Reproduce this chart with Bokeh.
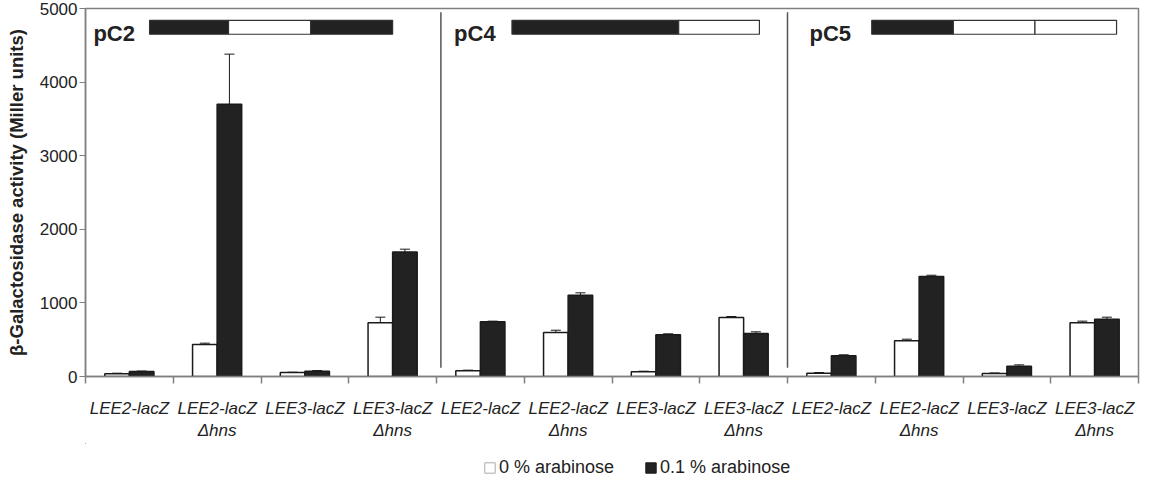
from bokeh.plotting import figure
from bokeh.layouts import column
from bokeh.models import (ColumnDataSource, FixedTicker, Whisker, TeeHead, Legend, LegendItem)
from bokeh.core.properties import value
from bokeh.embed import file_html
from bokeh.resources import INLINE

# ---------------- data ----------------
plasmids = ["pC2", "pC4", "pC5"]
strains = ["LEE2-lacZ", "LEE2-lacZ\nΔhns", "LEE3-lacZ", "LEE3-lacZ\nΔhns"]
labels = strains * 3
ara0 = [36, 435, 54, 730, 77, 598, 63, 801, 45, 485, 41, 730]
ara0_err = [45, 453, 58, 806, 86, 629, 72, 815, 54, 507, 48, 752]
ara01 = [68, 3700, 72, 1690, 743, 1105, 566, 584, 281, 1360, 140, 779]
ara01_err = [74, 4380, 81, 1730, 752, 1137, 580, 607, 295, 1376, 158, 806]
series_names = ["0 % arabinose", "0.1 % arabinose"]
y_ticks = [0, 1000, 2000, 3000, 4000, 5000]
# construct schematics: segment colours for each plasmid
schemes = {"pC2": ["#222222", "white", "#222222"],
           "pC4": ["#222222", "white"],
           "pC5": ["#222222", "white", "white"]}

# ---------------- layout constants ----------------
FONT = "Liberation Sans"
BW = 0.28
n = len(labels)
centers = [i + 0.5 for i in range(n)]
FILLS = ["white", "#222222"]

p = figure(width=1151, height=443, x_range=(0, n), y_range=(0, 5000),
           output_backend="svg", toolbar_location=None,
           min_border_left=85, min_border_right=13, min_border_top=8, min_border_bottom=67)
p.grid.visible = False
p.outline_line_color = "#808080"
p.outline_line_width = 1.5
p.background_fill_color = "white"
p.border_fill_color = "white"

src = ColumnDataSource(dict(
    xw=[c - BW / 2 for c in centers], xb=[c + BW / 2 for c in centers],
    w=ara0, we=ara0_err, b=ara01, be=ara01_err))

p.vbar(x="xw", top="w", width=BW, bottom=0, source=src,
       fill_color=FILLS[0], line_color="#1a1a1a", line_width=1.5)
p.vbar(x="xb", top="b", width=BW, bottom=0, source=src,
       fill_color=FILLS[1], line_color="#1a1a1a", line_width=1.5)

for xcol, base, up in (("xw", "w", "we"), ("xb", "b", "be")):
    wk = Whisker(source=src, base=xcol, lower=base, upper=up, dimension="height",
                 line_color="#1a1a1a", line_width=1,
                 upper_head=TeeHead(size=10, line_color="#1a1a1a", line_width=1),
                 lower_head=None)
    p.add_layout(wk)

# panel separators
p.segment(x0=[4.05, 8.0], y0=[120, 120], x1=[4.05, 8.0], y1=[4950, 4950],
          line_color="#555555", line_width=1.5)

# panel labels & construct bars
lab_x = [0.09, 4.2, 8.25]
seg_x = {"pC2": [0.73, 1.63, 2.565, 3.5],
         "pC4": [4.86, 6.76, 7.68],
         "pC5": [8.96, 9.89, 10.82, 11.75]}
p.text(x=lab_x, y=[4660] * 3, text=plasmids, text_font=value(FONT),
       text_font_style="bold", text_font_size="22px", text_baseline="middle",
       text_color="#222222")
qx0, qx1, qc = [], [], []
for pl in plasmids:
    xs = seg_x[pl]
    for k, col in enumerate(schemes[pl]):
        qx0.append(xs[k]); qx1.append(xs[k + 1]); qc.append(col)
p.quad(left=qx0, right=qx1, bottom=4650, top=4840, fill_color=qc,
       line_color="#333333", line_width=1.2)

# axes
p.yaxis.ticker = FixedTicker(ticks=y_ticks)
p.yaxis.minor_tick_line_color = None
p.yaxis.major_tick_out = 6
p.yaxis.major_tick_in = 0
p.yaxis.axis_line_color = "#808080"
p.yaxis.axis_line_width = 1.5
p.yaxis.major_tick_line_color = "#808080"
p.yaxis.major_label_text_font = FONT
p.yaxis.major_label_text_font_size = "17px"
p.yaxis.major_label_text_color = "#222222"
p.yaxis.major_label_standoff = 2
p.yaxis.axis_label = "β-Galactosidase activity (Miller units)"
p.yaxis.axis_label_text_font = FONT
p.yaxis.axis_label_text_font_size = "18.5px"
p.yaxis.axis_label_text_font_style = "bold"
p.yaxis.axis_label_text_color = "#222222"
p.yaxis.axis_label_standoff = 10

p.xaxis.ticker = FixedTicker(ticks=centers, minor_ticks=list(range(n + 1)))
p.xaxis.major_label_overrides = {c: l for c, l in zip(centers, labels)}
p.xaxis.major_tick_out = 0
p.xaxis.major_tick_in = 0
p.xaxis.minor_tick_out = 7
p.xaxis.minor_tick_in = 0
p.xaxis.minor_tick_line_color = "#808080"
p.xaxis.minor_tick_line_width = 1.5
p.xaxis.axis_line_color = "#808080"
p.xaxis.axis_line_width = 1.5
p.xaxis.major_label_text_font = FONT
p.xaxis.major_label_text_font_style = "italic"
p.xaxis.major_label_text_font_size = "17px"
p.xaxis.major_label_text_color = "#222222"
p.xaxis.major_label_standoff = 15

# legend strip (own figure so the legend is not clipped)
lg = figure(width=1151, height=36, x_range=(0, 1), y_range=(0, 1),
            output_backend="svg", toolbar_location=None,
            min_border_left=85, min_border_right=13, min_border_top=0, min_border_bottom=0)
lg.axis.visible = False
lg.grid.visible = False
lg.outline_line_color = None
lr = [lg.vbar(x=[-5], bottom=[5], top=[6], width=0.1, fill_color=FILLS[k],
              line_color="#aaaaaa" if k == 0 else "#1a1a1a", line_width=1)
      for k in range(2)]
legend = Legend(items=[LegendItem(label=series_names[k], renderers=[lr[k]]) for k in range(2)],
                orientation="horizontal", location=(398, 1),
                label_text_font=FONT, label_text_font_size="18px",
                label_text_color="#222222",
                glyph_width=13, glyph_height=13, label_standoff=3, spacing=30,
                border_line_color=None, background_fill_alpha=0,
                margin=0, padding=0)
lg.add_layout(legend, "center")

open("out.html", "w").write(file_html(column(p, lg, spacing=0), INLINE))
